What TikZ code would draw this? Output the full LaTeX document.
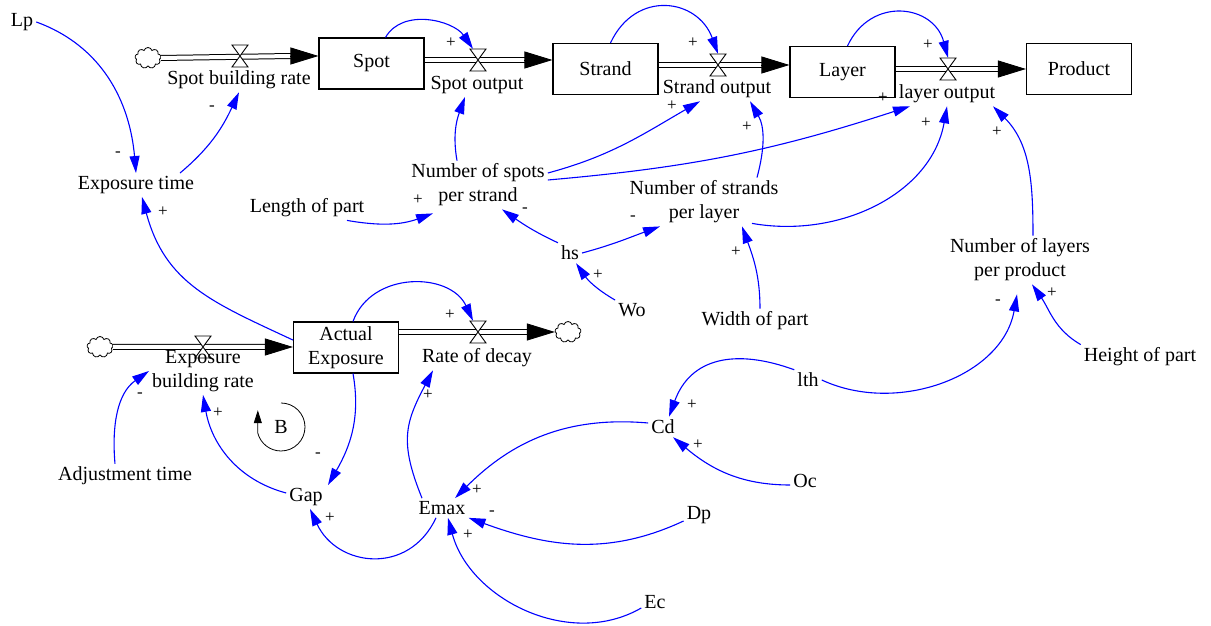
\documentclass[tikz,border=0pt]{standalone}
\usepackage{fontspec}
\setmainfont{Liberation Serif}
\usetikzlibrary{arrows.meta,shapes.symbols}
\tikzset{
  link/.style={blue, line width=1.1pt, -{Triangle[length=17pt,width=10pt]}},
  sgn/.style={font=\fontsize{17}{17}\selectfont, inner sep=0},
  stock/.style={draw, line width=1.1pt, minimum width=105pt, minimum height=51pt, inner sep=0, align=center},
  aux/.style={inner sep=3pt, align=center},
  pipe/.style={double distance=4pt, line width=1pt},
  pipetip/.style={line width=0.9pt, -{Triangle[length=28pt,width=17pt]}},
  src/.style={cloud, cloud puffs=9, draw, line width=0.8pt, minimum width=26pt, minimum height=21pt, inner sep=0, aspect=1.2},
  vnode/.style={minimum width=16pt, minimum height=22pt, inner sep=0},
  hourglass/.pic={\draw[line width=0.9pt, fill=white] (-8,11) -- (8,11) -- (-8,-11) -- (8,-11) -- cycle;}
}
\begin{document}
\begin{tikzpicture}[x=1pt,y=1pt,font=\fontsize{20}{24}\selectfont]
\useasboundingbox (0,0) rectangle (1211,626);
% stocks
\node[stock] (Spot) at (371.5,562.5) {Spot};
\node[stock] (Strand) at (605.5,557) {Strand};
\node[stock] (Layer) at (842.5,554) {Layer};
\node[stock] (Product) at (1079,557) {Product};
\node[stock] (AE) at (346,278.5) {Actual\\Exposure};
% clouds
\node[src] (c1) at (148,568) {};
\node[src] (c2) at (100,279) {};
\node[src] (c3) at (568,294) {};
% valves
\node[vnode] (v1) at (240,570) {};
\node[vnode] (v2) at (478,566) {};
\node[vnode] (v3) at (718,561) {};
\node[vnode] (v4) at (948,557) {};
\node[vnode] (v5) at (203,279) {};
\node[vnode] (v6) at (478,294) {};
% pipe end points
\coordinate (e1) at (Spot.west |- v1);
\coordinate (b2) at (Spot.east |- v2);
\coordinate (e2) at (Strand.west |- v2);
\coordinate (b3) at (Strand.east |- v3);
\coordinate (e3) at (Layer.west |- v3);
\coordinate (b4) at (Layer.east |- v4);
\coordinate (e4) at (Product.west |- v4);
\coordinate (e5) at (AE.west |- v5);
\coordinate (b6) at (AE.east |- v6);
\coordinate (e6) at (c3.west |- v6);
% pipes
\draw[pipe] (c1.east) -- ([xshift=-27pt]e1);
\draw[pipetip] ([xshift=-28pt]e1) -- (e1);
\draw[pipe] (b2) -- ([xshift=-27pt]e2);
\draw[pipetip] ([xshift=-28pt]e2) -- (e2);
\draw[pipe] (b3) -- ([xshift=-27pt]e3);
\draw[pipetip] ([xshift=-28pt]e3) -- (e3);
\draw[pipe] (b4) -- ([xshift=-27pt]e4);
\draw[pipetip] ([xshift=-28pt]e4) -- (e4);
\draw[pipe] (c2.east) -- ([xshift=-27pt]e5);
\draw[pipetip] ([xshift=-28pt]e5) -- (e5);
\draw[pipe] (b6) -- ([xshift=-27pt]e6);
\draw[pipetip] ([xshift=-28pt]e6) -- (e6);
\foreach \v in {v1,v2,v3,v4,v5,v6} {\pic at (\v) {hourglass};}
% flow labels
\node[aux] (l1) at (239,546) {Spot building rate};
\node[aux] (l2) at (477,541) {Spot output};
\node[aux] (l3) at (717,537) {Strand output};
\node[aux] (l4) at (947,532) {layer output};
\node[aux] (l5) at (203,255) {Exposure\\building rate};
\node[aux] (l6) at (477,268) {Rate of decay};
% auxiliaries
\node[aux] (Lp) at (22,604) {Lp};
\node[aux] (ET) at (136,441) {Exposure time};
\node[aux] (LoP) at (307,418) {Length of part};
\node[aux] (NSpS) at (478,441) {Number of spots\\per strand};
\node[aux] (NStL) at (704,424) {Number of strands\\per layer};
\node[aux] (hs) at (570,373) {hs};
\node[aux] (Wo) at (632,316) {Wo};
\node[aux] (WoP) at (755,305) {Width of part};
\node[aux] (NLpP) at (1020,366) {Number of layers\\per product};
\node[aux] (HoP) at (1140,269) {Height of part};
\node[aux] (lth) at (808,246) {lth};
\node[aux] (Cd) at (663,199) {Cd};
\node[aux] (Oc) at (805,145) {Oc};
\node[aux] (Dp) at (699,111) {Dp};
\node[aux] (Ec) at (655,24) {Ec};
\node[aux] (Emax) at (442,118) {Emax};
\node[aux] (Gap) at (306,129) {Gap};
\node[aux] (AdjT) at (125,150) {Adjustment time};
% loop marker
\node (B) at (281,199) {B};
\draw[line width=0.8pt, -{Triangle[length=13pt,width=8pt]}] ([shift={(90:24)}]B.center) arc[start angle=90, end angle=-165, radius=24] -- ++(0,23);
% links
\draw[link] (Lp.east) to[out=-20,in=95] (ET.north);
\draw[link] ([xshift=44pt]ET.north) to[out=40,in=-115] (l1.south);
\draw[link] (AE.172) to[out=155,in=-75,looseness=1.1] ([xshift=6pt]ET.south);
\draw[link] ([xshift=14pt]Spot.north) to[out=60,in=125] ([xshift=-5pt]v2.north);
\draw[link] ([xshift=5pt]Strand.north) to[out=65,in=110,looseness=1.4] (v3.north);
\draw[link] ([xshift=5pt]Layer.north) to[out=65,in=105,looseness=1.4] (v4.north);
\draw[link] ([xshift=7pt]AE.north) to[out=70,in=115,looseness=1.15] ([xshift=-5pt]v6.north);
\draw[link] ([xshift=-21pt]NSpS.north) to[out=100,in=-110] ([xshift=-12pt]l2.south);
\draw[link] ([yshift=12pt]NSpS.east) to[out=15,in=-150] ([xshift=-17pt]l3.south);
\draw[link] ([yshift=5pt]NSpS.east) to[out=5,in=-162] ([xshift=-37pt]l4.south);
\draw[link] ([xshift=40pt]LoP.south) to[out=-10,in=-160] ([xshift=-45pt,yshift=-4pt]NSpS.south);
\draw[link] (hs.north west) to[out=155,in=-35] ([xshift=24pt]NSpS.south);
\draw[link] (hs.east) to[out=15,in=-160] ([xshift=-44pt]NStL.south);
\draw[link] (Wo.north west) to[out=150,in=-55] ([xshift=6pt]hs.south);
\draw[link] ([xshift=5pt]WoP.north) to[out=90,in=-70] ([xshift=38pt]NStL.south);
\draw[link] ([xshift=53pt]NStL.north) to[out=75,in=-60] ([xshift=33pt]l3.south);
\draw[link] ([xshift=48pt,yshift=3pt]NStL.south) to[out=-10,in=-100] (l4.south);
\draw[link] ([xshift=13pt]NLpP.north) to[out=90,in=-45] ([xshift=46pt]l4.south);
\draw[link] (lth.east) to[out=-25,in=-100] ([xshift=-3pt,yshift=-10pt]NLpP.south);
\draw[link] (HoP.north west) to[out=150,in=-55] ([xshift=12pt]NLpP.south);
\draw[link] (lth.north west) to[out=160,in=70,looseness=1.2] ([xshift=6pt]Cd.north);
\draw[link] ([yshift=-4pt]Oc.west) to[out=180,in=-40] ([xshift=10pt]Cd.south);
\draw[link] ([yshift=4pt]Cd.west) to[out=175,in=45] ([xshift=13pt]Emax.north);
\draw[link] ([yshift=-6pt]Dp.west) to[out=-155,in=-20] (Emax.south east);
\draw[link] ([yshift=-6pt]Ec.west) to[out=-150,in=-75] ([xshift=6pt]Emax.south);
\draw[link] ([xshift=-20pt]Emax.north) to[out=112,in=-118,looseness=1.2] ([xshift=-44pt]l6.south);
\draw[link] ([xshift=-6pt]Emax.south) to[out=-115,in=-65,looseness=1.3] ([xshift=4pt]Gap.south);
\draw[link] ([xshift=7pt]AE.south) to[out=-80,in=60] ([xshift=22pt]Gap.north);
\draw[link] ([yshift=4pt]Gap.west) to[out=165,in=-80] (l5.south);
\draw[link] ([xshift=-10pt]AdjT.north) to[out=95,in=-145] (l5.west);
% polarity signs
\node[sgn] (s1) at (118,472) {-};
\node[sgn] (s2) at (212,518) {-};
\node[sgn] (s3) at (163,414) {+};
\node[sgn] (s4) at (451,583) {+};
\node[sgn] (s5) at (693,583) {+};
\node[sgn] (s6) at (928,581) {+};
\node[sgn] (s7) at (450,311) {+};
\node[sgn] (s9) at (672,520) {+};
\node[sgn] (s10) at (883,528) {+};
\node[sgn] (s11) at (418,426) {+};
\node[sgn] (s12) at (525,416) {-};
\node[sgn] (s13) at (633,408) {-};
\node[sgn] (s14) at (598,351) {+};
\node[sgn] (s15) at (736,374) {+};
\node[sgn] (s16) at (747,499) {+};
\node[sgn] (s17) at (926,503) {+};
\node[sgn] (s18) at (997,494) {+};
\node[sgn] (s19) at (998,324) {-};
\node[sgn] (s20) at (1052,333) {+};
\node[sgn] (s21) at (692,221) {+};
\node[sgn] (s22) at (698,181) {+};
\node[sgn] (s23) at (477,136) {+};
\node[sgn] (s24) at (492,113) {-};
\node[sgn] (s25) at (468,91) {+};
\node[sgn] (s26) at (428,231) {+};
\node[sgn] (s27) at (330,108) {+};
\node[sgn] (s28) at (318,171) {-};
\node[sgn] (s29) at (218,213) {+};
\node[sgn] (s30) at (140,231) {-};
\end{tikzpicture}
\end{document}
